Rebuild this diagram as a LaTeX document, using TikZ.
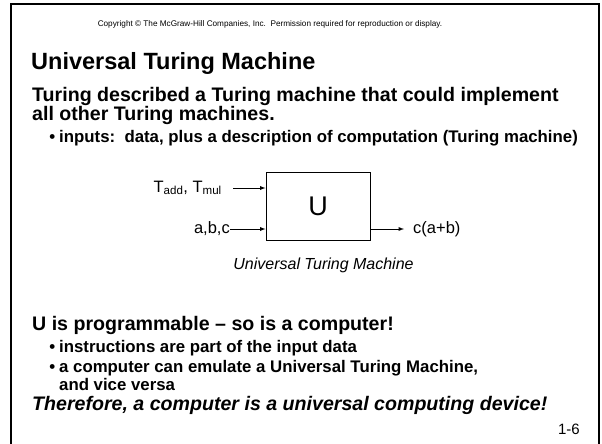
\documentclass[tikz,border=0pt]{standalone}
\usepackage{fontspec}
\setmainfont{Liberation Sans}
\usetikzlibrary{arrows, positioning}

\tikzstyle{heading} = [anchor=base west, inner sep=0, font=\fontsize{23.5}{28}\selectfont\bfseries]
\tikzstyle{body} = [anchor=base west, inner sep=0, align=left, font=\fontsize{19.6}{18.5}\selectfont\bfseries]
\tikzstyle{point} = [anchor=base west, inner sep=0, align=left, font=\fontsize{16.8}{18}\selectfont\bfseries]
\tikzstyle{tag} = [inner sep=0, font=\fontsize{16.5}{18}\selectfont]
\tikzstyle{caption} = [inner sep=0, font=\fontsize{16}{18}\selectfont\itshape]
\tikzstyle{note} = [anchor=base, inner sep=0, font=\fontsize{8.2}{9}\selectfont]
\tikzstyle{machine} = [rectangle, draw, line width=1pt, minimum width=104pt, minimum height=68pt, font=\fontsize{27}{27}\selectfont]
\tikzstyle{arrow} = [->, >=latex, line width=0.9pt]

% bullet hung to the left of an item
\newcommand{\bul}{\llap{\textbullet\hspace{4pt}}}

\begin{document}
\begin{tikzpicture}[x=1pt, y=-1pt]
  \useasboundingbox (0,0) rectangle (602,444);
  \draw[line width=2pt] (11,444) -- (11,4) -- (599,4) -- (599,444);

  \node[note] (copy) at (270,27) {Copyright © The McGraw-Hill Companies, Inc.\ \ Permission required for reproduction or display.};

  % slide text
  \node[heading] (title) at (31,70) {Universal Turing Machine};
  \node[body] (intro) at (32,120) {Turing described a Turing machine that could implement\\all other Turing machines.};
  \node[point] (inputs) at (59,142) {\bul inputs:\ \ data, plus a description of computation (Turing machine)};

  % the machine
  \node[machine] (U) at (318,206) {U};
  \node[tag, anchor=east] (prog) at (222,188) {T\textsubscript{add}, T\textsubscript{mul}};
  \node[tag, anchor=east] (data) at (230,229) {a,b,c};
  \node[tag, anchor=west] (result) at (413,229) {c(a+b)};
  \node[caption] (cap) at (323.5,265) {Universal Turing Machine};

  \draw[arrow, shorten <=11pt] (prog.east) -- (prog.east -| U.west);
  \draw[arrow] (data.east) -- (data.east -| U.west);
  \draw[arrow, shorten >=9pt] (result.west -| U.east) -- (result.west);

  \node[body] (prog2) at (32,330) {U is programmable -- so is a computer!};
  \node[point] (instr) at (59,352) {\bul instructions are part of the input data};
  \node[point] (emul) at (59,390) {\bul a computer can emulate a Universal Turing Machine,\\and vice versa};
  \node[body, font=\fontsize{19.6}{18.5}\selectfont\bfseries\itshape] (concl) at (32,410) {Therefore, a computer is a universal computing device!};

  \node[anchor=base east, inner sep=0, font=\fontsize{15}{16}\selectfont] (page) at (580,434) {1-6};
\end{tikzpicture}
\end{document}
